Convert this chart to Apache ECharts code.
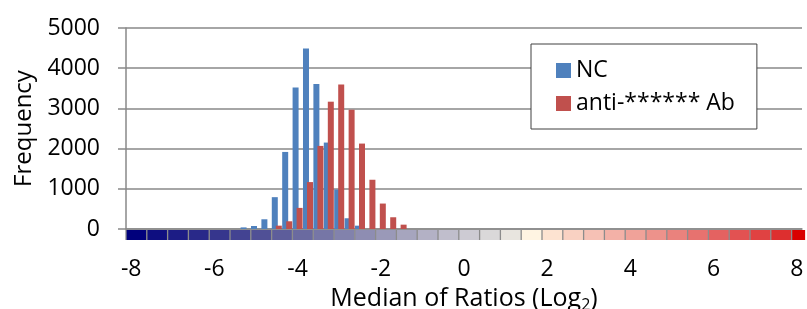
<!DOCTYPE html>
<html>
<head>
<meta charset="utf-8">
<script src="https://cdn.jsdelivr.net/npm/echarts@6/dist/echarts.min.js"></script>
<style>
  html, body { margin: 0; padding: 0; background: #fff; }
  #chart { width: 807px; height: 309px; }
</style>
</head>
<body>
<div id="chart"></div>
<script>
// histogram bins (centre of each bin, log2)
const binCenters = [-5.25, -5, -4.75, -4.5, -4.25, -4, -3.75, -3.5, -3.25, -3, -2.75, -2.5, -2.25, -2, -1.75, -1.5]
const ncCounts   = [40, 75, 242, 792, 1917, 3517, 4492, 3608, 2150, 983, 267, 83, 0, 0, 0, 0]
const abCounts   = [0, 0, 0, 83, 192, 525, 1167, 2067, 3167, 3592, 2967, 2125, 1225, 633, 292, 108]
const xTicks = [-8, -6, -4, -2, 0, 2, 4, 6, 8]
const seriesNames = ['NC', 'anti-****** Ab']

// colour strip under the axis (blue -> cream -> red)
const stripColors = [
  '#00007c', '#0e0e80', '#1c1c85', '#292989', '#36368d', '#434392', '#505096', '#5d5d9b',
  '#6a6aa0', '#7676a6', '#8282ac', '#8e8db2', '#9a99b8', '#a6a5be', '#b3b1c5', '#c0becc',
  '#cdcbd3', '#dad8d9', '#e8e5df', '#fff4e2', '#fde3d1', '#f9d1c2', '#f6c1b5', '#f3b1a7',
  '#f0a299', '#ed928b', '#ea827d', '#e7726f', '#e46261', '#e25252', '#e04242', '#dd2f2f',
  '#d90000'
]
const stripStart = -8.125
const stripStep = 0.5
const stripEnd = 8.2

const font = '"Open Sans", "Noto Sans", sans-serif'
const chart = echarts.init(document.getElementById('chart'))

const stripData = stripColors.map((c, i) => [stripStart + i * stripStep, 0, i])

chart.setOption({
  animation: false,
  textStyle: { fontFamily: font },
  grid: { left: 126, right: 5, top: 28, bottom: 80, outerBoundsMode: 'none', containLabel: false },
  legend: {
    data: seriesNames,
    orient: 'vertical',
    left: 531,
    top: 44,
    padding: [15, 22, 14, 25],
    borderColor: '#404040',
    borderWidth: 1,
    backgroundColor: '#fff',
    icon: 'rect',
    itemWidth: 15,
    itemHeight: 15,
    itemGap: 10,
    textStyle: { fontSize: 23, lineHeight: 23, color: '#000', fontFamily: font }
  },
  xAxis: {
    type: 'value',
    min: -8.125,
    max: 8.125,
    name: '{a|Median of Ratios (Log}{s|2}{a|)}',
    nameLocation: 'middle',
    nameGap: 53,
    nameTextStyle: {
      rich: {
        a: { fontSize: 25, color: '#000', fontFamily: font },
        s: { fontSize: 16, color: '#000', fontFamily: font, verticalAlign: 'bottom', padding: [14, 0, 0, 0] }
      }
    },
    axisLine: { show: true, onZero: false, lineStyle: { color: '#898989', width: 1.5 } },
    axisTick: { show: false },
    splitLine: { show: false },
    axisLabel: {
      customValues: xTicks,
      margin: 29,
      fontSize: 23,
      color: '#000'
    }
  },
  yAxis: {
    type: 'value',
    min: 0,
    max: 5000,
    interval: 1000,
    name: 'Frequency',
    nameLocation: 'middle',
    nameGap: 84,
    nameTextStyle: { fontSize: 24, color: '#000' },
    axisLine: { show: true, onZero: false, lineStyle: { color: '#898989', width: 1.5 } },
    axisTick: { show: true, length: 8, lineStyle: { color: '#898989', width: 1.5 } },
    axisLabel: { margin: 26, fontSize: 23, color: '#000', formatter: (v) => String(v) },
    splitLine: { lineStyle: { color: '#898989', width: 1.5 } }
  },
  series: [
    {
      name: seriesNames[0],
      type: 'bar',
      barWidth: 6,
      barGap: '-33%',
      itemStyle: { color: '#4f81bd' },
      data: binCenters.map((x, i) => [x, ncCounts[i]])
    },
    {
      name: seriesNames[1],
      type: 'bar',
      barWidth: 6,
      barGap: '-33%',
      itemStyle: { color: '#c0504d' },
      data: binCenters.map((x, i) => [x, abCounts[i]])
    },
    {
      type: 'custom',
      clip: false,
      silent: true,
      data: stripData,
      renderItem: (params, api) => {
        const v = api.value(0)
        const p0 = api.coord([v, 0])
        const p1 = api.coord([Math.min(v + stripStep, stripEnd), 0])
        const y = p0[1] + 1
        const h = 10
        return {
          type: 'group',
          children: [
            {
              type: 'rect',
              shape: { x: p0[0], y: y, width: p1[0] - p0[0], height: h },
              style: { fill: stripColors[api.value(2)] }
            },
            {
              type: 'line',
              shape: { x1: p0[0], y1: y, x2: p0[0], y2: y + h },
              style: { stroke: '#8c8c8c', lineWidth: 1.3 }
            }
          ]
        }
      }
    }
  ]
})
</script>
</body>
</html>
